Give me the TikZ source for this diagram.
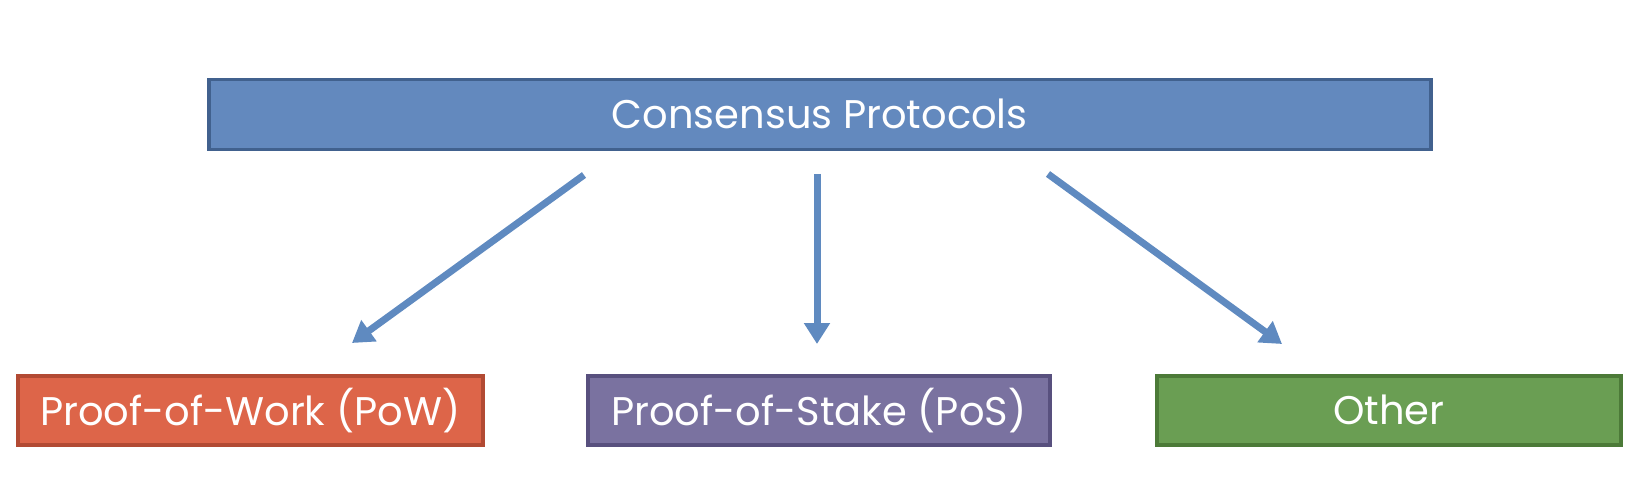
\documentclass[tikz,border=0pt]{standalone}
\usepackage{fontspec}
\setmainfont{Poppins}
\usetikzlibrary{arrows.meta}
\definecolor{topfill}{HTML}{6389BE}
\definecolor{topdraw}{HTML}{41618E}
\definecolor{powfill}{HTML}{DD6549}
\definecolor{powdraw}{HTML}{B24A33}
\definecolor{posfill}{HTML}{7A72A0}
\definecolor{posdraw}{HTML}{58507E}
\definecolor{othfill}{HTML}{6A9E53}
\definecolor{othdraw}{HTML}{4C7A38}
\definecolor{arrcol}{HTML}{5F8AC0}
\tikzset{
  box/.style={rectangle, line width=3.5pt, text=white, inner sep=0pt,
    font=\fontsize{40}{46}\selectfont, anchor=north west},
  conn/.style={arrcol, line width=7pt, -{Triangle[width=25pt,length=21pt]}}
}
\begin{document}
\begin{tikzpicture}[x=1pt,y=-1pt]
\useasboundingbox (0,0) rectangle (1634,484);
\node[box, fill=topfill, draw=topdraw, minimum width=1222pt, minimum height=70pt] (top) at (207,78) {\raisebox{2pt}{Consensus Protocols}};
\node[box, fill=powfill, draw=powdraw, minimum width=465pt, minimum height=69pt] (pow) at (16,374) {\raisebox{2pt}{Proof-of-Work (PoW)}};
\node[box, fill=posfill, draw=posdraw, minimum width=462pt, minimum height=69pt] (pos) at (586,374) {\raisebox{2pt}{Proof-of-Stake (PoS)}};
\node[box, fill=othfill, draw=othdraw, minimum width=464pt, minimum height=69pt] (oth) at (1155,374) {\raisebox{2pt}{Other}};
\coordinate (s1) at (584,175);
\coordinate (t1) at (352,343);
\coordinate (s2) at (817,174);
\coordinate (t2) at (817,344);
\coordinate (s3) at (1048,174);
\coordinate (t3) at (1282,344);
\draw[conn] (s1) -- (t1);
\draw[conn] (s2) -- (t2);
\draw[conn] (s3) -- (t3);
\end{tikzpicture}
\end{document}
